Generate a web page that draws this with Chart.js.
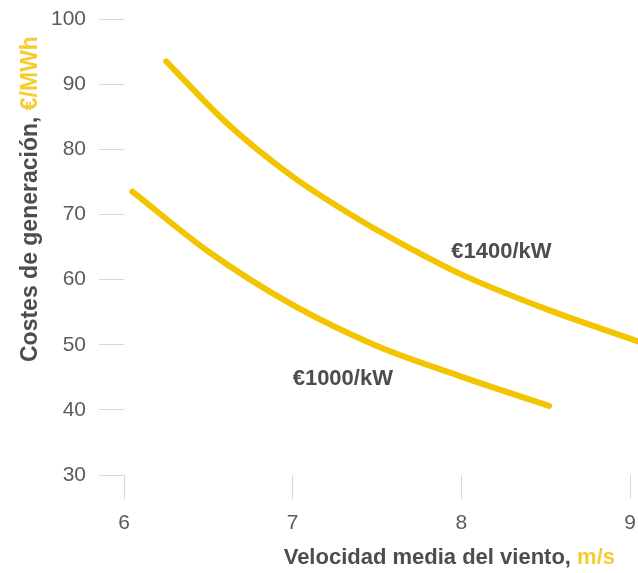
<!DOCTYPE html>
<html>
<head>
<meta charset="utf-8">
<script src="https://cdn.jsdelivr.net/npm/chart.js@4.4.1/dist/chart.umd.min.js"></script>
<style>
  html, body { margin: 0; padding: 0; background: #fff; overflow: hidden; }
  #wrap { width: 638px; height: 573px; position: relative; }
</style>
</head>
<body>
<div id="wrap"><canvas id="myChart"></canvas></div>
<script>
// wind speed (m/s) vs generation cost (€/MWh) for two turbine capex levels
const speeds1000 = [6.05, 6.5, 7.0, 7.5, 8.0, 8.25, 8.52];
const costs1000  = [73.5, 64.3, 56.1, 49.8, 45.1, 42.9, 40.6];

const speeds1400 = [6.25, 6.61, 7.0, 7.4, 7.64, 8.0, 8.5, 9.05];
const costs1400  = [93.5, 84.0, 75.8, 69.1, 65.6, 60.8, 55.5, 50.5];

const xTicks = [6, 7, 8, 9];
const yTicks = [30, 40, 50, 60, 70, 80, 90, 100];

const seriesNames = ['€1000/kW', '€1400/kW'];

const YELLOW = '#f3c400';
const TEXT = '#4d4d4d';
const FONT = "'Liberation Sans', Arial, sans-serif";

const toPoints = (xs, ys) => xs.map((x, i) => ({ x: x, y: ys[i] }));

// series name labels, placed in data coordinates
const seriesLabels = {
  id: 'seriesLabels',
  afterDatasetsDraw(chart) {
    const { ctx, scales: { x, y } } = chart;
    const spots = [[7.0, 43.8], [7.94, 63.3]];
    ctx.save();
    ctx.font = 'bold 22px ' + FONT;
    ctx.fillStyle = TEXT;
    ctx.textBaseline = 'alphabetic';
    seriesNames.forEach((name, i) => {
      ctx.fillText(name, x.getPixelForValue(spots[i][0]), y.getPixelForValue(spots[i][1]));
    });
    ctx.restore();
  }
};

// axis titles with the unit in yellow
const axisTitles = {
  id: 'axisTitles',
  afterDraw(chart) {
    const ctx = chart.ctx;
    ctx.save();
    ctx.textBaseline = 'alphabetic';

    ctx.font = 'bold 22px ' + FONT;
    const xa = 'Velocidad media del viento, ';
    const xb = 'm/s';
    const w = ctx.measureText(xa).width + ctx.measureText(xb).width;
    const sx = 615 - w;
    ctx.fillStyle = TEXT;
    ctx.fillText(xa, sx, 564);
    ctx.fillStyle = '#f5cc2e';
    ctx.fillText(xb, sx + ctx.measureText(xa).width, 564);

    ctx.font = 'bold 23px ' + FONT;
    const ya = 'Costes de generación, ';
    const yb = '€/MWh';
    ctx.translate(37, 362);
    ctx.rotate(-Math.PI / 2);
    ctx.fillStyle = TEXT;
    ctx.fillText(ya, 0, 0);
    ctx.fillStyle = '#f5cc2e';
    ctx.fillText(yb, ctx.measureText(ya).width, 0);
    ctx.restore();
  }
};

const lineStyle = {
  showLine: true,
  borderColor: YELLOW,
  backgroundColor: YELLOW,
  borderWidth: 6,
  borderCapStyle: 'round',
  pointRadius: 0,
  pointHoverRadius: 0,
  cubicInterpolationMode: 'monotone',
  clip: false
};

const ctx = document.getElementById('myChart').getContext('2d');
const myChart = new Chart(ctx, {
  type: 'scatter',
  data: {
    datasets: [
      Object.assign({ label: seriesNames[0], data: toPoints(speeds1000, costs1000) }, lineStyle),
      Object.assign({ label: seriesNames[1], data: toPoints(speeds1400, costs1400) }, lineStyle)
    ]
  },
  options: {
    responsive: true,
    maintainAspectRatio: false,
    animation: false,
    layout: { padding: { left: 0, right: 8, top: 19, bottom: 0 } },
    plugins: { legend: { display: false }, tooltip: { enabled: false } },
    scales: {
      x: {
        type: 'linear',
        min: 6,
        max: 9,
        afterFit: s => { s.height = 98; s.paddingLeft = 0; s.paddingRight = 0; },
        afterBuildTicks: s => { s.ticks = xTicks.map(v => ({ value: v })); },
        grid: { drawOnChartArea: false, drawTicks: true, tickLength: 24, color: '#d8d8d8', tickColor: '#d8d8d8' },
        border: { display: false },
        ticks: { padding: 12, color: '#5c5c5c', font: { family: FONT, size: 21 } }
      },
      y: {
        type: 'linear',
        min: 30,
        max: 100,
        afterFit: s => { s.width = 124; s.paddingTop = 0; s.paddingBottom = 0; },
        afterBuildTicks: s => { s.ticks = yTicks.map(v => ({ value: v })); },
        grid: { drawOnChartArea: false, drawTicks: true, tickLength: 25, color: '#d8d8d8', tickColor: '#d8d8d8' },
        border: { display: false },
        ticks: { padding: 13, color: '#5c5c5c', font: { family: FONT, size: 21 } }
      }
    }
  },
  plugins: [seriesLabels, axisTitles]
});
</script>
</body>
</html>
